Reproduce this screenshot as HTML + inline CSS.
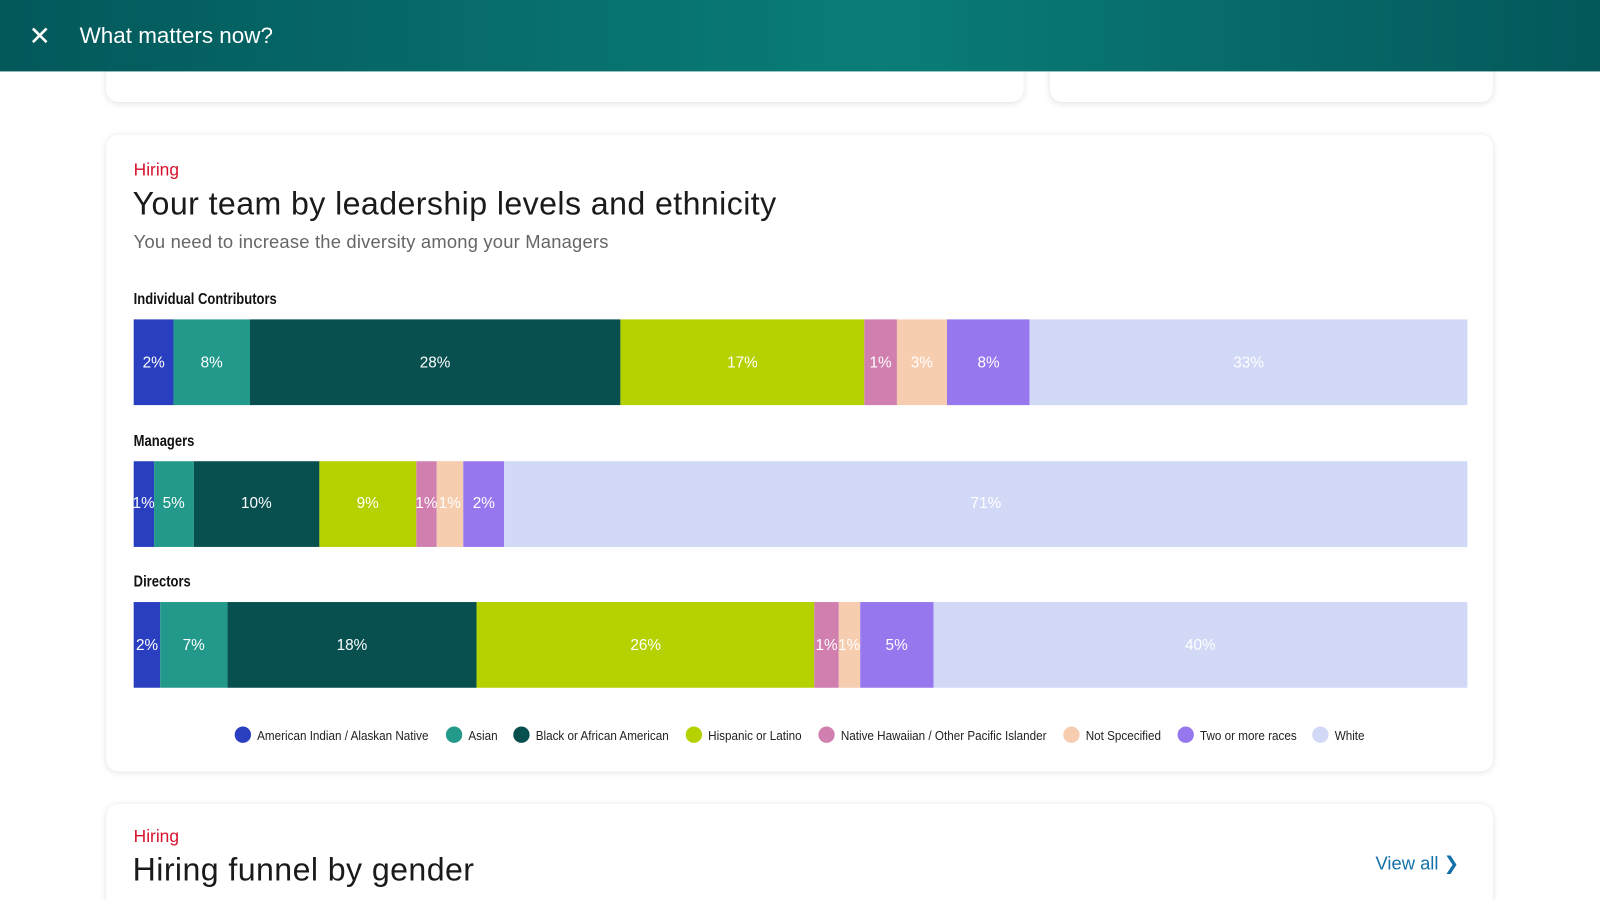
<!DOCTYPE html>
<html><head><meta charset="utf-8">
<style>
html,body{margin:0;padding:0;width:1600px;height:900px;overflow:hidden;background:#fff;font-family:"Liberation Sans",sans-serif;}
#wrap{position:absolute;left:0;top:0;width:1568px;height:882px;transform:scale(1.020408);transform-origin:0 0;background:#fff;overflow:hidden;}
.card{position:absolute;background:#fff;border-radius:12px;box-shadow:0 1px 6px rgba(0,0,0,0.12);}
#header{position:absolute;left:0;top:0;width:1568px;height:70px;background:linear-gradient(90deg,#03585a 0%,#0a7d78 55%,#04585a 100%);z-index:5;}
.lbl{position:absolute;left:131px;font-size:15px;color:#111;font-weight:bold;transform:scaleX(0.85);transform-origin:0 0;}
.seg{position:absolute;height:84px;color:#fff;font-size:15px;display:flex;align-items:center;justify-content:center;white-space:nowrap;overflow:visible;}
.leg{position:absolute;top:712px;font-size:13px;color:#222;display:flex;align-items:center;white-space:nowrap;}
.leg i{display:inline-block;width:16px;height:16px;border-radius:50%;margin-right:6px;}
</style></head><body>
<div id="wrap">
<div id="header">
  <div style="position:absolute;left:28px;top:23px;width:22px;height:24px;color:#fff;font-size:26px;line-height:24px;">✕</div>
  <div style="position:absolute;left:78px;top:22px;color:#fff;font-size:22px;">What matters now?</div>
</div>
<div class="card" style="left:104px;top:20px;width:899px;height:80px;"></div>
<div class="card" style="left:1029px;top:20px;width:434px;height:80px;"></div>

<div class="card" style="left:104px;top:132px;width:1359px;height:624px;"></div>
<div style="position:absolute;left:131px;top:157px;color:#d6112d;font-size:17px;">Hiring</div>
<div style="position:absolute;left:130px;top:181px;color:#1a1a1a;font-size:31.5px;letter-spacing:0.4px;">Your team by leadership levels and ethnicity</div>
<div style="position:absolute;left:131px;top:227px;color:#666;font-size:18px;letter-spacing:0.2px;">You need to increase the diversity among your Managers</div>
<div id="chart"></div>
<div id="legend"></div>

<div class="card" style="left:104px;top:788px;width:1359px;height:94px;border-bottom-left-radius:0;border-bottom-right-radius:0;"></div>
<div style="position:absolute;left:131px;top:810px;color:#d6112d;font-size:17px;">Hiring</div>
<div style="position:absolute;left:130px;top:834px;color:#1a1a1a;font-size:31.5px;line-height:36px;letter-spacing:0.4px;">Hiring funnel by gender</div>
<div style="position:absolute;left:1348px;top:836px;color:#1470a8;font-size:18px;">View all &#x276F;</div>
</div>
<script>
const categories=["Individual Contributors","Managers","Directors"];
const series=["American Indian / Alaskan Native","Asian","Black or African American","Hispanic or Latino","Native Hawaiian / Other Pacific Islander","Not Spcecified","Two or more races","White"];
const colors=["#2a3fbf","#22998a","#07504f","#b5d100","#d07faf","#f7cdb0","#9777ee","#d1d9f7"];
const icValues=[3.0,5.7,27.8,18.3,2.4,3.8,6.2,32.8];
const mgrValues=[1.5,3.0,9.4,7.3,1.5,2.0,3.1,72.2];
const dirValues=[2.0,5.0,18.7,25.3,1.8,1.6,5.5,40.0];
const icLabels=["2%","8%","28%","17%","1%","3%","8%","33%"];
const mgrLabels=["1%","5%","10%","9%","1%","1%","2%","71%"];
const dirLabels=["2%","7%","18%","26%","1%","1%","5%","40%"];
const rows=[icValues,mgrValues,dirValues];
const rowLabels=[icLabels,mgrLabels,dirLabels];
const X0=131,W=1307,rowTop0=313,rowGap=138.5;
const chart=document.getElementById('chart');
function xScale(v,total){return v/total*W;}
rows.forEach((vals,r)=>{
  const top=rowTop0+r*rowGap;
  const l=document.createElement('div');
  l.className='lbl';l.style.top=(top-28)+'px';l.textContent=categories[r];
  
  
  chart.appendChild(l);
  const total=vals.reduce((a,b)=>a+b,0);
  let x=X0;
  vals.forEach((v,i)=>{
    const w=xScale(v,total);
    const s=document.createElement('div');
    s.className='seg';
    s.style.left=x+'px';s.style.top=top+'px';s.style.width=w+'px';s.style.background=colors[i];
    s.textContent=rowLabels[r][i];
    
    
    chart.appendChild(s);
    x+=w;
  });
});
const legX=[230,437,503,672,802,1042,1154,1286];
const legend=document.getElementById('legend');
series.forEach((n,i)=>{
  const d=document.createElement('div');
  d.className='leg';d.style.left=legX[i]+'px';
  d.innerHTML='<i style="background:'+colors[i]+'"></i><span style="display:inline-block;transform:scaleX(0.88);transform-origin:0 50%">'+n+'</span>';
  
  
  legend.appendChild(d);
});
</script>
</body></html>
